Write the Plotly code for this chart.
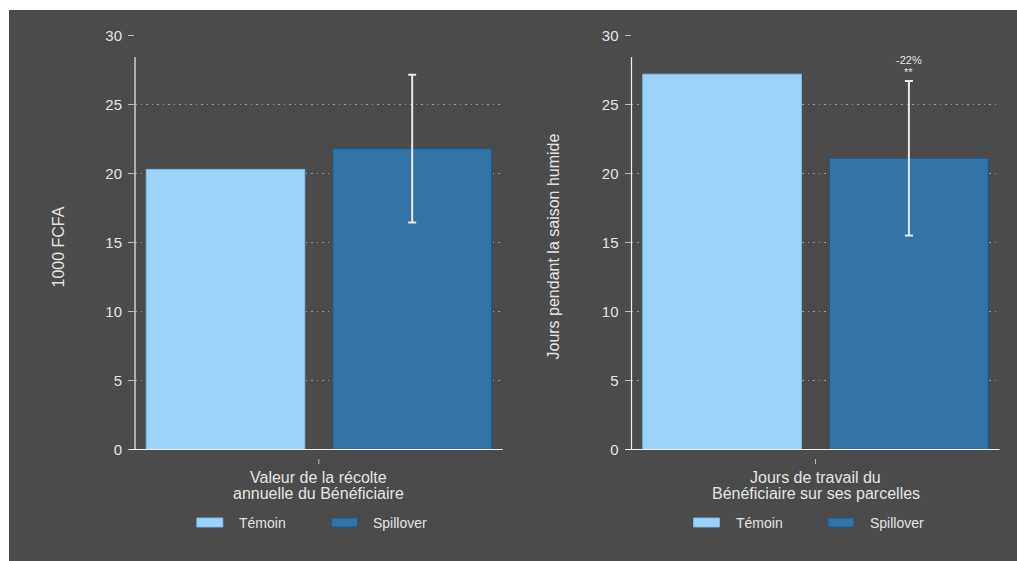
import plotly.graph_objects as go

# ---- data -------------------------------------------------------------
series_names = ["Témoin", "Spillover"]
outcome_titles = [
    ["Valeur de la récolte", "annuelle du Bénéficiaire"],
    ["Jours de travail du", "Bénéficiaire sur ses parcelles"],
]
y_titles = ["1000 FCFA", "Jours pendant la saison humide"]
temoin_values = [20.3, 27.2]
spillover_values = [21.8, 21.1]
spillover_ci_half = [5.35, 5.6]
significance_stars = ["", "**"]
y_tick_values = [0, 5, 10, 15, 20, 25, 30]

# ---- styling ----------------------------------------------------------
W, H = 1017, 561
BG = "#4b4b4b"
TXT = "#e4e4e4"
GRID = "#9c9c9c"
FONT = "Liberation Sans, Arial, sans-serif"
FILL = ["#9bd3fd", "#3274a5"]
EDGE = ["#78b8e6", "#1d5a8b"]


def px_x(p):
    return p / W


def px_y(p):
    return 1 - p / H


# pixel extents of the two panels
panel_x = [(135, 502.7), (631.5, 999.5)]
plot_top, plot_bottom = 35.5, 449.5
axis_line_top = 57
x_range = [0.515, 2.485]
bar_width = 0.85

fig = go.Figure()
shapes = []
annotations = []

# dark backdrop
shapes.append(dict(type="rect", xref="paper", yref="paper",
                   x0=px_x(9), x1=1, y0=0, y1=px_y(10),
                   fillcolor=BG, line=dict(width=0), layer="below"))

for i in range(2):
    xa = "x" if i == 0 else "x2"
    ya = "y" if i == 0 else "y2"
    xl, xr = panel_x[i]
    xc = (xl + xr) / 2

    fig.add_trace(go.Bar(
        x=[1], y=[temoin_values[i]], width=bar_width, name=series_names[0],
        marker=dict(color=FILL[0], line=dict(color=EDGE[0], width=1)),
        xaxis=xa, yaxis=ya, showlegend=False, hoverinfo="skip"))
    fig.add_trace(go.Bar(
        x=[2], y=[spillover_values[i]], width=bar_width, name=series_names[1],
        marker=dict(color=FILL[1], line=dict(color=EDGE[1], width=1)),
        error_y=dict(type="data", array=[spillover_ci_half[i]], visible=True,
                     color="#eaeaea", thickness=2, width=4),
        xaxis=xa, yaxis=ya, showlegend=False, hoverinfo="skip"))

    # axis lines and the single category tick
    shapes.append(dict(type="line", xref="paper", yref="paper",
                       x0=px_x(xl), x1=px_x(xl),
                       y0=px_y(plot_bottom), y1=px_y(axis_line_top),
                       line=dict(color="#f0f0f0", width=1.2)))
    shapes.append(dict(type="line", xref="paper", yref="paper",
                       x0=px_x(xl - 6), x1=px_x(xr),
                       y0=px_y(plot_bottom), y1=px_y(plot_bottom),
                       line=dict(color="#f0f0f0", width=1.2)))
    shapes.append(dict(type="line", xref="paper", yref="paper",
                       x0=px_x(xc), x1=px_x(xc),
                       y0=px_y(459), y1=px_y(464),
                       line=dict(color="#bdbdbd", width=1)))

    # category title (two lines)
    for k, line in enumerate(outcome_titles[i]):
        annotations.append(dict(xref="paper", yref="paper",
                                x=px_x(xc), y=px_y(477.5 + 16 * k),
                                xanchor="center", yanchor="middle",
                                text=line, showarrow=False,
                                font=dict(family=FONT, size=16, color=TXT)))

    # y-axis title
    annotations.append(dict(xref="paper", yref="paper",
                            x=px_x([57.5, 552.5][i]), y=px_y(247),
                            xanchor="center", yanchor="middle",
                            text=y_titles[i], textangle=-90, showarrow=False,
                            font=dict(family=FONT, size=16, color=TXT)))

    # legend swatches and labels
    for s in range(2):
        sx = xc - 122 + 134.5 * s
        shapes.append(dict(type="rect", xref="paper", yref="paper",
                           x0=px_x(sx), x1=px_x(sx + 26),
                           y0=px_y(527), y1=px_y(518),
                           fillcolor=FILL[s], line=dict(color=EDGE[s], width=1)))
        annotations.append(dict(xref="paper", yref="paper",
                                x=px_x(sx + 40), y=px_y(522.5),
                                xanchor="left", yanchor="middle",
                                text=series_names[s], showarrow=False,
                                font=dict(family=FONT, size=14, color=TXT)))

    # percentage gap and significance above the Spillover whisker
    if significance_stars[i]:
        pct = round((spillover_values[i] / temoin_values[i] - 1) * 100)
        top = spillover_values[i] + spillover_ci_half[i]
        annotations.append(dict(xref=xa, yref=ya, x=2, y=top,
                                yshift=21, xanchor="center", yanchor="middle",
                                text=f"{pct:d}%", showarrow=False,
                                font=dict(family=FONT, size=11, color=TXT)))
        annotations.append(dict(xref=xa, yref=ya, x=2, y=top,
                                yshift=9, xanchor="center", yanchor="middle",
                                text=significance_stars[i], showarrow=False,
                                font=dict(family=FONT, size=11, color=TXT)))

x_common = dict(range=x_range, showline=False, showgrid=False,
                zeroline=False, showticklabels=False, ticks="",
                automargin=False, fixedrange=True)
y_common = dict(range=[0, 30], tickvals=y_tick_values, ticks="outside",
                ticklen=6, tickwidth=1, tickcolor="#bdbdbd",
                ticklabelstandoff=3,
                tickfont=dict(family=FONT, size=15, color=TXT),
                showgrid=True, gridcolor=GRID, gridwidth=1,
                griddash="1.5px,4px", showline=False, zeroline=False,
                automargin=False, fixedrange=True)
y_dom = [px_y(plot_bottom), px_y(plot_top)]

fig.update_layout(
    width=W, height=H,
    margin=dict(l=0, r=0, t=0, b=0, autoexpand=False),
    paper_bgcolor="white",
    plot_bgcolor="rgba(0,0,0,0)",
    barmode="overlay",
    showlegend=False,
    xaxis=dict(domain=[px_x(panel_x[0][0]), px_x(panel_x[0][1])],
               anchor="y", **x_common),
    xaxis2=dict(domain=[px_x(panel_x[1][0]), px_x(panel_x[1][1])],
                anchor="y2", **x_common),
    yaxis=dict(domain=y_dom, anchor="x", **y_common),
    yaxis2=dict(domain=y_dom, anchor="x2", **y_common),
    shapes=shapes,
    annotations=annotations,
)

fig.write_html("out.html")
